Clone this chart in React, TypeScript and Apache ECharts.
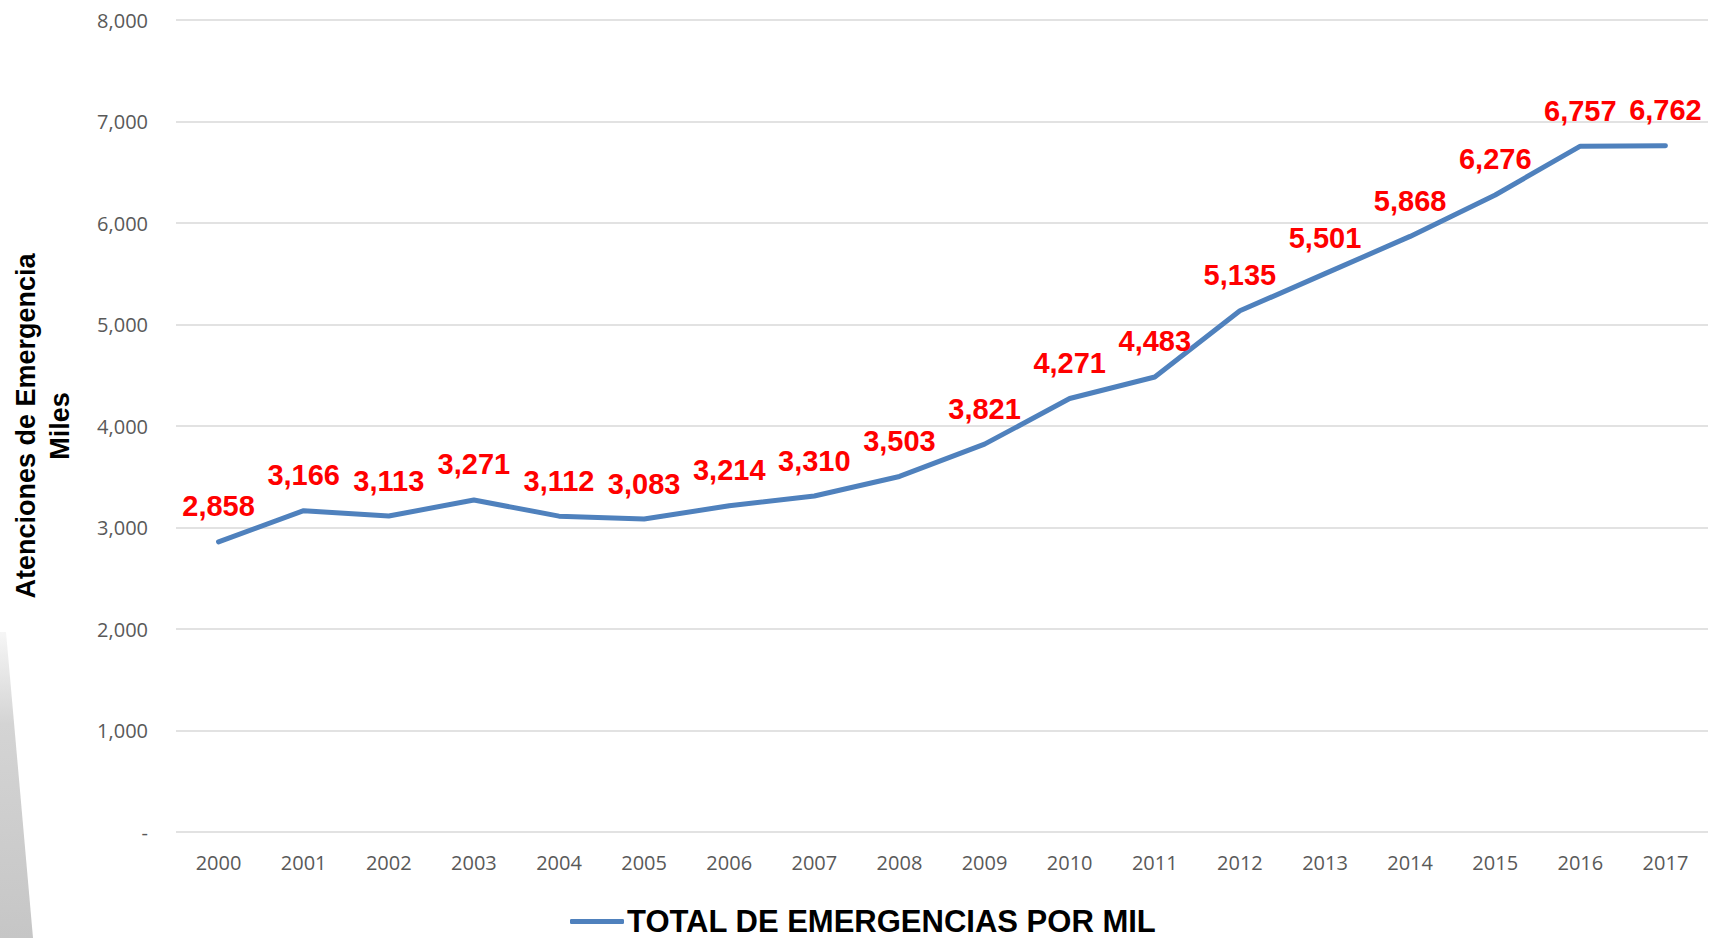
import React, { useEffect, useRef } from "react";
import * as echarts from "echarts";

const years = ["2000","2001","2002","2003","2004","2005","2006","2007","2008","2009","2010","2011","2012","2013","2014","2015","2016","2017"];
const totals = [2858, 3166, 3113, 3271, 3112, 3083, 3214, 3310, 3503, 3821, 4271, 4483, 5135, 5501, 5868, 6276, 6757, 6762];
const seriesName = "TOTAL DE EMERGENCIAS POR MIL";
const yAxisTitle = "Atenciones de Emergencia\nMiles";

const fmt = (v: number) => (v === 0 ? "-" : v.toLocaleString("en-US"));

export default function App() {
  const ref = useRef<HTMLDivElement>(null);
  useEffect(() => {
    if (!ref.current) return;
    const chart = echarts.init(ref.current, null, { renderer: "svg" });
    chart.setOption({
      animation: false,
      backgroundColor: "#ffffff",
      grid: { left: 176, right: 1, top: 20, bottom: 106, containLabel: false },
      legend: {
        data: [{ name: seriesName, icon: "roundRect", itemStyle: { color: "#4f81bd", opacity: 1 } }],
        left: 565,
        top: 901,
        itemWidth: 54,
        itemHeight: 5,
        itemGap: 10,
        textStyle: { fontFamily: "Liberation Sans", fontWeight: "bold", fontSize: 31, color: "#000000", lineHeight: 30, padding: [0, 0, 0, -2] },
      },
      xAxis: {
        type: "category",
        data: years,
        boundaryGap: true,
        axisLine: { show: false },
        axisTick: { show: false },
        axisLabel: { color: "#595959", fontFamily: "Open Sans", fontSize: 20, margin: 20 },
      },
      yAxis: {
        type: "value",
        min: 0,
        max: 8000,
        interval: 1000,
        name: yAxisTitle,
        nameLocation: "middle",
        nameGap: 99,
        nameTextStyle: { fontFamily: "Liberation Sans", fontWeight: "bold", fontSize: 27, color: "#000000", lineHeight: 34 },
        axisLine: { show: false },
        axisTick: { show: false },
        splitLine: { lineStyle: { color: "#d9d9d9", width: 1.5 } },
        axisLabel: { color: "#595959", fontFamily: "Open Sans", fontSize: 20, margin: 28, formatter: fmt },
      },
      series: [
        {
          name: seriesName,
          type: "line",
          data: totals,
          showSymbol: true,
          symbol: "circle",
          symbolSize: 2,
          lineStyle: { color: "#4f81bd", width: 5, cap: "round", join: "round" },
          itemStyle: { color: "#4f81bd" },
          labelLayout: { hideOverlap: false },
          label: {
            show: true,
            position: "top",
            distance: 20,
            offset: [3, 0],
            color: "#ff0000",
            fontFamily: "Liberation Sans",
            fontWeight: "bold",
            fontSize: 29,
            formatter: (p: any) => fmt(p.value),
          },
        },
      ],
      graphic: [
        {
          type: "polygon",
          shape: { points: [[0, 632], [6, 632], [33, 938], [0, 938]] },
          style: {
            fill: new echarts.graphic.LinearGradient(0, 0, 0, 1, [
              { offset: 0, color: "#f6f6f6" },
              { offset: 0.3, color: "#d4d4d4" },
              { offset: 1, color: "#c6c6c6" },
            ]),
          },
          z: -1,
        },
      ],
    });
    return () => chart.dispose();
  }, []);
  return <div ref={ref} style={{ position: "fixed", left: 0, top: 0, width: "1709px", height: "938px" }} />;
}
